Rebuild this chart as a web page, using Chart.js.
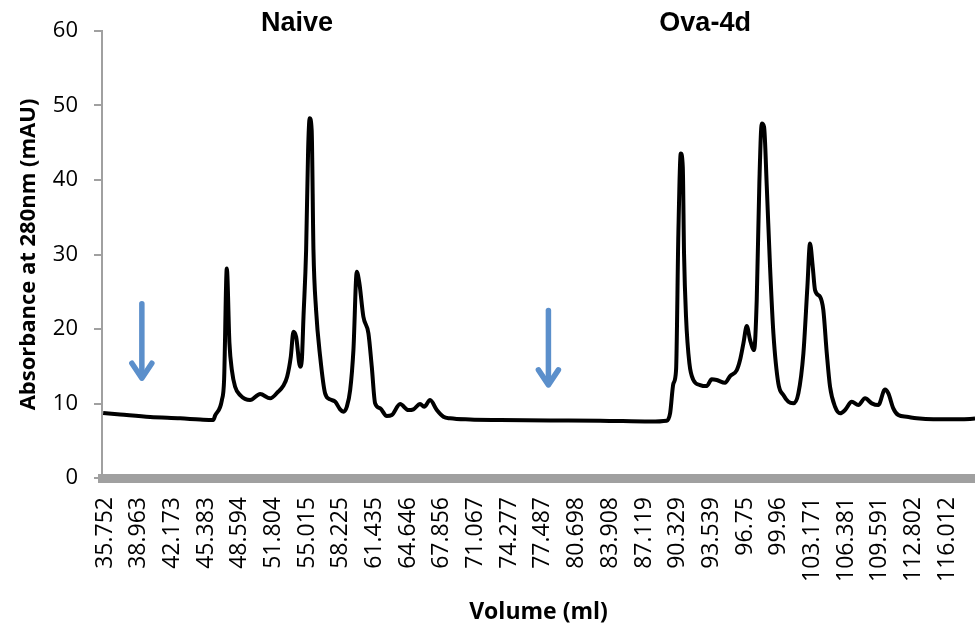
<!DOCTYPE html>
<html>
<head>
<meta charset="utf-8">
<script src="https://cdn.jsdelivr.net/npm/chart.js@4.4.1/dist/chart.umd.min.js"></script>
<style>
  html, body { margin: 0; padding: 0; background: #fff; }
  #wrap { width: 975px; height: 633px; position: relative; }
</style>
</head>
<body>
<div id="wrap"><canvas id="chart"></canvas></div>
<script>
// Elution volume (ml) and absorbance (mAU)
const volumes = [
  35.56, 37.18, 40.04, 42.90, 44.81, 46.05, 46.24, 46.88, 47.09, 47.35,
  47.60, 47.83, 48.14, 48.62, 49.57, 50.53, 51.48, 52.24, 52.72, 53.10,
  53.45, 53.70, 53.96, 54.34, 54.50, 54.66, 54.91, 55.10, 55.25, 55.44,
  55.61, 55.86, 56.25, 56.72, 57.20, 57.68, 58.15, 58.47, 58.79, 59.11,
  59.42, 59.74, 59.99, 60.37, 60.85, 61.17, 61.49, 61.97, 62.60, 63.08,
  63.87, 64.66, 65.14, 65.78, 66.16, 66.73, 67.37, 68.00, 68.64, 70.55,
  73.41, 78.18, 82.94, 87.70, 89.29, 89.61, 89.93, 90.18, 90.40, 90.63,
  90.82, 90.94, 91.13, 91.45, 91.83, 92.47, 93.10, 93.58, 94.06, 94.85,
  95.33, 95.97, 96.28, 96.60, 96.92, 97.24, 97.62, 97.87, 98.12, 98.35,
  98.57, 98.83, 99.14, 99.46, 99.93, 100.41, 100.89, 101.36, 101.84, 102.32,
  102.70, 102.95, 103.21, 103.43, 103.91, 104.22, 104.55, 104.86, 105.34, 105.82,
  106.29, 106.93, 107.56, 108.20, 108.84, 109.46, 110.10, 110.42, 110.89, 111.37,
  112.17, 113.12, 114.71, 117.25, 118.68
];
const absorbance = [
  8.72, 8.52, 8.18, 8.01, 7.85, 7.78, 8.40, 10.46, 13.15, 28.13,
  18.11, 14.49, 12.25, 11.13, 10.46, 11.27, 10.69, 11.58, 12.34, 13.59,
  16.27, 19.62, 18.95, 14.93, 15.83, 21.64, 30.58, 44.00, 48.29, 46.70,
  30.58, 22.54, 16.27, 11.36, 10.56, 10.24, 9.22, 8.89, 9.56, 11.80,
  17.17, 27.67, 26.12, 21.64, 19.41, 14.93, 10.02, 9.35, 8.32, 8.45,
  9.93, 9.12, 9.22, 9.93, 9.56, 10.46, 9.12, 8.22, 8.01, 7.85,
  7.78, 7.71, 7.69, 7.58, 7.69, 8.68, 12.70, 14.49, 32.82, 43.55,
  41.76, 30.14, 21.64, 15.39, 13.15, 12.48, 12.34, 13.24, 13.15, 12.78,
  13.68, 14.49, 15.83, 18.07, 20.39, 18.51, 17.17, 23.88, 39.53, 47.58,
  47.12, 39.07, 28.34, 19.41, 12.70, 11.13, 10.23, 10.02, 11.36, 16.73,
  25.66, 31.48, 28.34, 25.22, 24.32, 22.54, 16.73, 12.25, 9.56, 8.68,
  9.12, 10.23, 9.79, 10.69, 10.02, 9.79, 11.89, 11.36, 9.35, 8.45,
  8.22, 8.01, 7.87, 7.87, 7.98
];

// category labels printed under the x axis
const tickLabels = [
  '35.752', '38.963', '42.173', '45.383', '48.594', '51.804', '55.015',
  '58.225', '61.435', '64.646', '67.856', '71.067', '74.277', '77.487',
  '80.698', '83.908', '87.119', '90.329', '93.539', '96.75', '99.96',
  '103.171', '106.381', '109.591', '112.802', '116.012'
];
const yTicks = [0, 10, 20, 30, 40, 50, 60];

// sample group headers and injection arrows
const groupNames = ['Naive', 'Ova-4d'];
const groupVolumes = [54.05, 92.95];
const arrowVolumes = [39.25, 78.01];
const arrowTops = [23.4, 22.5];
const arrowTips = [13.4, 12.5];

const tickValues = tickLabels.map(s => parseFloat(s));

const annotations = {
  id: 'annotations',
  afterDatasetsDraw(chart) {
    const { ctx, scales: { x, y }, chartArea } = chart;
    ctx.save();
    // blue arrows
    ctx.strokeStyle = '#5b8fcb';
    ctx.lineWidth = 5.5;
    ctx.lineCap = 'round';
    ctx.lineJoin = 'round';
    arrowVolumes.forEach((v, i) => {
      const px = x.getPixelForValue(v);
      const top = y.getPixelForValue(arrowTops[i]);
      const tip = y.getPixelForValue(arrowTips[i]);
      ctx.beginPath();
      ctx.moveTo(px, top);
      ctx.lineTo(px, tip - 2);
      ctx.stroke();
      ctx.beginPath();
      ctx.moveTo(px - 10, tip - 15);
      ctx.lineTo(px, tip);
      ctx.lineTo(px + 10, tip - 15);
      ctx.stroke();
    });
    // group headers
    ctx.fillStyle = '#000';
    ctx.font = 'bold 27px "Liberation Sans", Arial, sans-serif';
    ctx.textAlign = 'center';
    ctx.textBaseline = 'middle';
    groupNames.forEach((name, i) => {
      ctx.fillText(name, x.getPixelForValue(groupVolumes[i]), chartArea.top - 7);
    });
    ctx.restore();
  }
};

new Chart(document.getElementById('chart'), {
  type: 'line',
  data: {
    datasets: [{
      data: volumes.map((v, i) => ({ x: v, y: absorbance[i] })),
      borderColor: '#000',
      borderWidth: 4,
      pointRadius: 0,
      cubicInterpolationMode: 'monotone',
      fill: false
    }]
  },
  options: {
    responsive: true,
    maintainAspectRatio: false,
    animation: false,
    layout: { padding: { top: 31, right: 0, left: 0, bottom: 0 } },
    plugins: {
      legend: { display: false },
      tooltip: { enabled: false }
    },
    scales: {
      x: {
        type: 'linear',
        min: 35.45,
        max: 118.68,
        afterBuildTicks: scale => {
          scale.ticks = tickValues.map(v => ({ value: v }));
        },
        afterFit: scale => {
          scale.height = 155;
          scale.paddingLeft = 0;
          scale.paddingRight = 0;
        },
        ticks: {
          autoSkip: false,
          minRotation: 90,
          maxRotation: 90,
          padding: 19,
          color: '#000',
          font: { family: '"Open Sans", sans-serif', size: 23 },
          callback: (value, index) => tickLabels[index]
        },
        grid: { display: true, drawOnChartArea: false, drawTicks: false },
        border: { display: true, width: 9, color: '#a0a0a0' },
        title: {
          display: true,
          text: 'Volume (ml)',
          color: '#000',
          font: { family: '"Open Sans", sans-serif', size: 23, weight: 'bold' },
          padding: { top: 4, bottom: 7 }
        }
      },
      y: {
        min: 0,
        max: 60,
        afterBuildTicks: scale => {
          scale.ticks = yTicks.map(v => ({ value: v }));
        },
        afterFit: scale => { scale.width = 102; },
        ticks: {
          padding: 16,
          color: '#000',
          font: { family: '"Open Sans", sans-serif', size: 22 }
        },
        grid: {
          drawOnChartArea: false,
          drawTicks: true,
          tickLength: 8,
          lineWidth: 2,
          color: '#a0a0a0'
        },
        border: { display: true, width: 2, color: '#a0a0a0' },
        title: {
          display: true,
          text: 'Absorbance at 280nm (mAU)',
          color: '#000',
          font: { family: '"Open Sans", sans-serif', size: 22, weight: 'bold' },
          padding: { top: 16, bottom: 0 }
        }
      }
    }
  },
  plugins: [annotations]
});
</script>
</body>
</html>
